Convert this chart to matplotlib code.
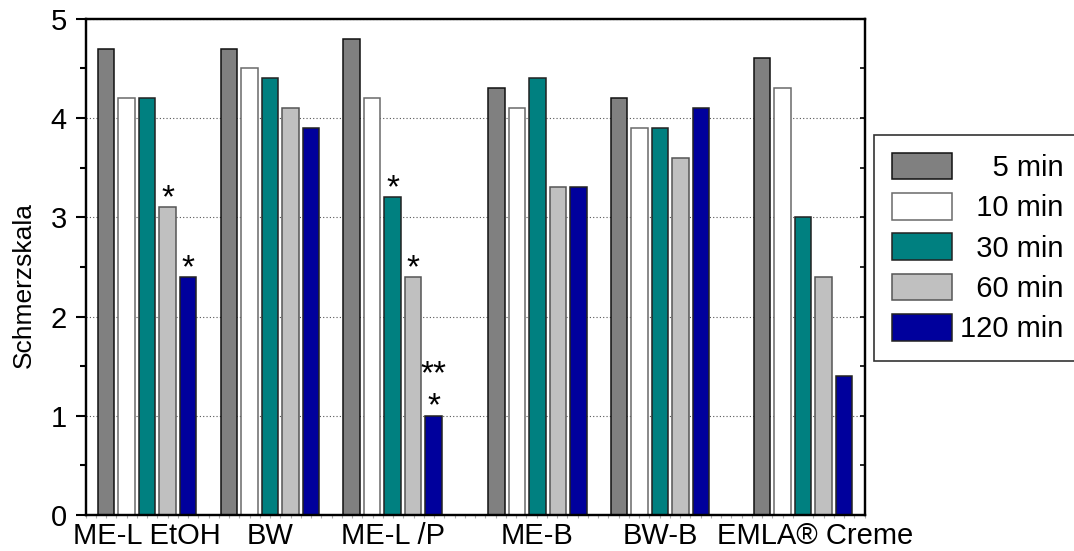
import matplotlib
matplotlib.use('Agg')
import matplotlib.pyplot as plt
from matplotlib.ticker import MultipleLocator
from matplotlib.transforms import ScaledTranslation

plt.rcParams['font.family'] = ['Liberation Sans', 'DejaVu Sans']

groups = ['ME-L EtOH', 'BW', 'ME-L /P', 'ME-B', 'BW-B', 'EMLA® Creme']
times = ['5 min', '10 min', '30 min', '60 min', '120 min']
v5 = [4.7, 4.7, 4.8, 4.3, 4.2, 4.6]
v10 = [4.2, 4.5, 4.2, 4.1, 3.9, 4.3]
v30 = [4.2, 4.4, 3.2, 4.4, 3.9, 3.0]
v60 = [3.1, 4.1, 2.4, 3.3, 3.6, 2.4]
v120 = [2.4, 3.9, 1.0, 3.3, 4.1, 1.4]
# significance marks (group index, time index, mark)
marks = [(0, 3, '*'), (0, 4, '*'), (2, 2, '*'), (2, 3, '*'), (2, 4, '**\n*')]

series = [v5, v10, v30, v60, v120]
colors = ['#808080', '#ffffff', '#008080', '#c0c0c0', '#00009c']
edges = ['#111111', '#6a6a6a', '#222222', '#555555', '#222222']

# group centres (gaps before ME-B and EMLA as in the original)
centers = [0.5, 1.5, 2.5, 3.68, 4.68, 5.845]
step = 0.167
width = 0.134

fig = plt.figure(figsize=(10.74, 5.51), dpi=100)
ax = fig.add_axes([0.0798, 0.0653, 0.7256, 0.9007])

bars = []
for i, vals in enumerate(series):
    xs = [c + (i - 2) * step for c in centers]
    b = ax.bar(xs, vals, width, color=colors[i], edgecolor=edges[i], linewidth=1.1, label=times[i])
    bars.append(b)

for g, s, m in marks:
    x = centers[g] + (s - 2) * step
    ax.annotate(m, xy=(x, series[s][g]), xytext=(0, 0), textcoords='offset points',
                ha='center', va='baseline', fontsize=24, linespacing=1.05)

ax.set_xlim(0, 6.349)
ax.set_ylim(0, 5)
ax.set_axisbelow(True)
ax.yaxis.grid(True, color='#555555', linestyle=(0, (1, 2)), linewidth=0.8)

ax.set_xticks(centers)
ax.set_xticklabels(groups, fontsize=21)
ax.tick_params(axis='x', which='major', length=0, pad=5)
ax.xaxis.set_minor_locator(MultipleLocator(step / 2))
ax.tick_params(axis='x', which='minor', length=2.5, width=0.8, color='#b0b0b0', direction='out')
# the last label sits a little right of its group in the original
last = ax.get_xticklabels()[-1]
last.set_transform(last.get_transform() + ScaledTranslation(0.12, 0, fig.dpi_scale_trans))

ax.yaxis.set_major_locator(MultipleLocator(1))
ax.yaxis.set_minor_locator(MultipleLocator(0.5))
ax.tick_params(axis='y', which='major', length=7.5, width=1.5, pad=6, labelsize=21)
ax.tick_params(axis='y', which='minor', length=4.5, width=1.5)
ax.set_ylabel('Schmerzskala', fontsize=19)
ax.yaxis.set_label_coords(-0.064, 0.463)

for sp in ax.spines.values():
    sp.set_linewidth(1.6)
    sp.set_color('black')

ax2 = ax.twinx()
ax2.set_ylim(0, 5)
ax2.yaxis.set_major_locator(MultipleLocator(0.5))
ax2.tick_params(axis='y', direction='in', length=3.5, width=1.2, labelright=False)
for sp in ax2.spines.values():
    sp.set_linewidth(1.6)

pad = max(len(t) for t in times)
labels = [' ' * 2 * (pad - len(t)) + t for t in times]
leg = ax.legend(bars, labels, loc='upper left', bbox_to_anchor=(874 / 1074, 1 - 135 / 551),
                bbox_transform=fig.transFigure, borderaxespad=0, fontsize=21,
                handlelength=2.06, handleheight=1.03, labelspacing=0.38, handletextpad=0.3,
                borderpad=0.6, fancybox=False, framealpha=1, edgecolor='#333333')
leg.get_frame().set_linewidth(1.2)

fig.savefig('out.png', dpi=100)
